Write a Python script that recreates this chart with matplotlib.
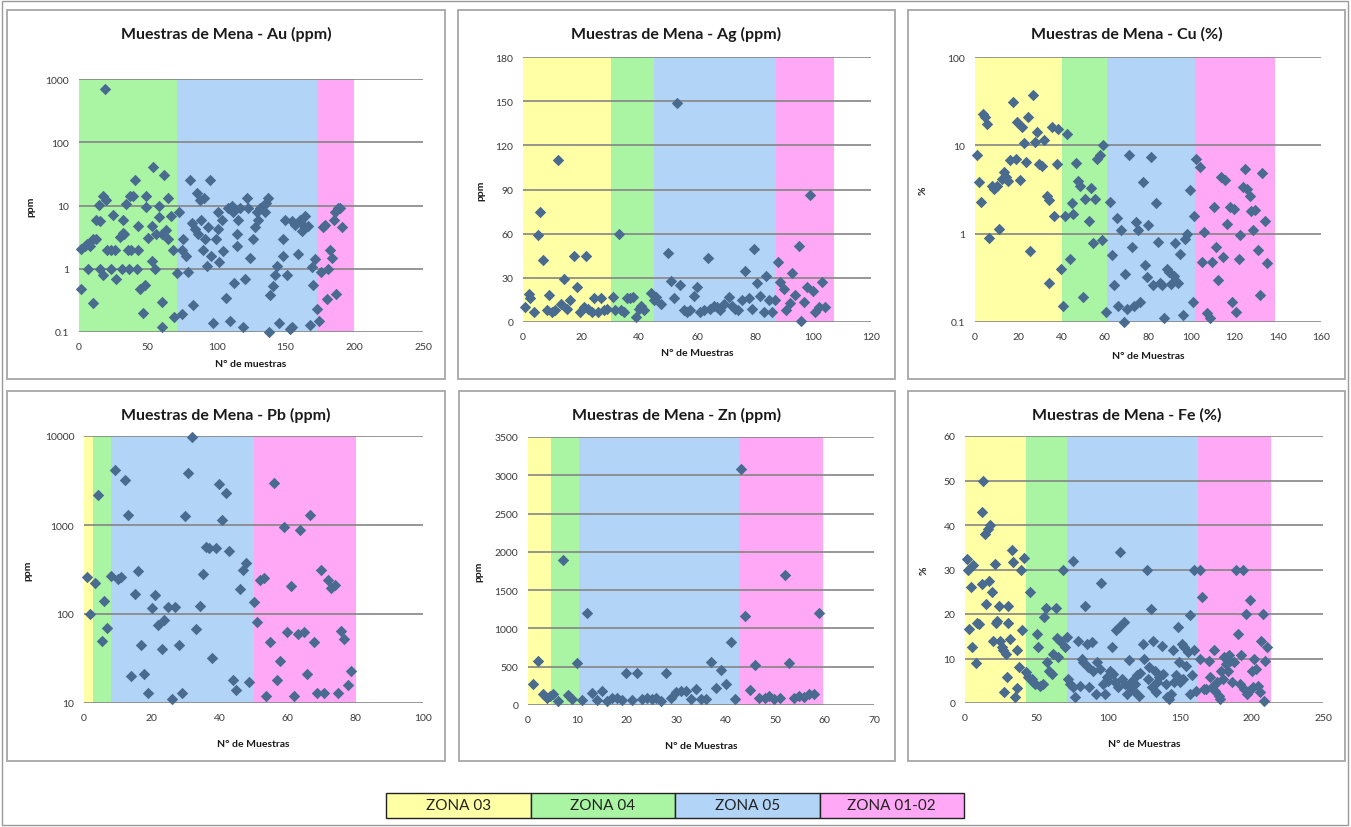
import matplotlib
matplotlib.use("Agg")
import matplotlib.pyplot as plt
from matplotlib.patches import Rectangle
from matplotlib.ticker import FuncFormatter

plt.rcParams['font.family'] = ['Lato', 'DejaVu Sans']

# zone names and colours (legend at the bottom)
zone_names = ["ZONA 03", "ZONA 04", "ZONA 05", "ZONA 01-02"]
zone_colors = ["#FFFFA6", "#AAF5A4", "#B2D4F6", "#FFA8F6"]

# ---- Au (ppm) ----
au_zones = [("ZONA 04", 0, 71.5), ("ZONA 05", 71.5, 173), ("ZONA 01-02", 173, 199.5)]
au_points = [(1.2, 0.48), (1.7, 2.07), (4, 2.3), (6, 2.5), (8, 2.3), (10, 3), (6.5, 1.0), (10, 0.29),
             (12.6, 3), (12.6, 6), (15, 5.7), (14.6, 10.2), (17.5, 14), (18.9, 700), (19.4, 12), (15, 1),
             (17.5, 0.8), (20, 2), (25, 7), (23.5, 2), (26, 2), (23.5, 1), (27, 0.7), (31, 1), (29.6, 3.2),
             (32, 3.7), (33, 3.5), (32, 5.8), (34, 10.5), (37, 14), (39, 14), (35.7, 2), (38, 2), (36, 1),
             (40.5, 25), (42, 1), (43, 2), (43, 4.7), (44, 0.48), (46.6, 0.2), (48, 0.55), (48.5, 14),
             (48.5, 9.5), (50, 3.1), (52.7, 4.7), (54, 40), (53, 1.35), (55, 1), (56, 3.5), (58, 10),
             (58, 6.5), (60.6, 3.5), (60, 0.3), (60, 0.12), (62, 30), (63, 4.1), (65, 13), (65, 3),
             (66.5, 6.8), (68.5, 2), (69, 0.17), (71, 0.85), (73, 8), (74.5, 2), (74.5, 0.19), (75.7, 3),
             (78, 1.6), (80.5, 25), (79, 0.9), (82, 5.3), (83, 0.27), (84, 4.2), (85.5, 16), (86.6, 3.5),
             (88, 12), (89, 6), (90, 2), (91, 13), (91.5, 3), (92.7, 1.1), (94, 4.5), (95, 25), (95.6, 1.6),
             (97.6, 0.14), (99.5, 3), (101, 8), (101, 4.3), (102, 1.3), (103.6, 6), (105, 1.9), (107, 0.35),
             (108.5, 9), (110, 0.15), (111, 10), (112, 8), (113, 0.6), (114.5, 3.5), (115, 2.3), (115.8, 6),
             (117, 9), (119, 0.12), (120.6, 0.7), (122, 13), (123, 9), (124, 1.5), (126.7, 3), (128, 4.6),
             (129, 8), (130, 6), (131.5, 9), (134, 10), (135, 8), (136, 11), (137.6, 13), (139, 0.38),
             (138, 0.1), (141, 0.53), (142.5, 0.8), (143.7, 1.1), (145, 0.14), (148.5, 1.6), (148, 3),
             (150, 6), (151, 0.8), (153.4, 0.11), (155, 0.12), (154.6, 5.7), (157, 5), (159.5, 1.7),
             (160.7, 6), (162, 4), (163, 5), (164.3, 6.8), (166.7, 4.7), (168, 0.13), (169, 1.05),
             (170.4, 0.55), (171.6, 1.45), (172.7, 0.23), (174.7, 0.15), (175.7, 0.9), (177, 4.6), (179, 5),
             (180, 0.33), (181, 1), (182.5, 2), (183.7, 1.5), (185, 6), (186, 8), (187, 0.4), (188, 9),
             (190, 9), (191, 4.5)]

# ---- Ag (ppm) ----
ag_zones = [("ZONA 03", 0, 30.5), ("ZONA 04", 30.5, 45.3), ("ZONA 05", 45.3, 87.4), ("ZONA 01-02", 87.4, 107.4)]
ag_points = [(0.8, 10), (2, 19), (2.5, 16), (3.7, 7), (5, 59), (5.7, 75), (7, 42), (8.3, 8), (9, 18.5),
             (10, 7), (11, 8), (12, 110), (13, 12), (14, 29), (15, 8.5), (16.3, 14.7), (17.7, 44.5),
             (18.6, 23.5), (19.5, 7), (21, 10), (21.8, 45), (22.3, 8.6), (23.8, 7), (24.6, 16), (26, 7),
             (27, 16), (27.8, 8), (29, 9), (31, 17), (31.8, 8), (33, 60), (33.8, 8), (34.7, 7), (35.9, 16),
             (37, 16), (38, 17), (38.9, 3.4), (40, 9), (40.7, 11), (41.6, 8), (44, 20), (45, 14.7), (46, 17),
             (47.6, 12), (50, 47), (51, 28), (52, 16), (53, 149), (54, 25), (55.4, 8), (56.5, 7), (57.7, 8),
             (59, 18), (60, 24), (61, 7), (62.5, 8), (63.8, 43.6), (64.6, 9), (65.7, 11), (67, 10), (68, 8),
             (69.4, 12), (71, 17), (72, 11), (73, 8.6), (74, 8), (75.5, 14.7), (76.7, 34.5), (77.8, 16),
             (79, 9), (79.8, 49.7), (80.7, 26.6), (81.8, 18), (83, 7), (83.9, 31), (84.7, 14.7), (85.9, 7),
             (87, 14.7), (87.8, 40.6), (88.7, 27), (89.9, 22.6), (90.8, 8), (92, 13), (92.8, 33.4),
             (93.9, 18.5), (95, 51.5), (95.9, 1), (96.8, 13.5), (98, 24), (99, 86), (100, 21), (100.8, 7),
             (102, 10), (103, 27.5), (104, 10)]

# ---- Cu (%) ----
cu_zones = [("ZONA 03", 0, 40.4), ("ZONA 04", 40.4, 61), ("ZONA 05", 61, 101.8), ("ZONA 01-02", 101.8, 138.9)]
cu_points = [(0.8, 7.8), (2, 3.85), (2.8, 2.3), (3.9, 22.8), (4.6, 20.9), (5.7, 17.6), (6.6, 0.9), (7.7, 3.5),
             (8.8, 3.2), (10, 3.5), (11.3, 1.14), (12.3, 4.2), (13.4, 5), (14.3, 4.4), (15.4, 3.9), (16.2, 6.8),
             (17.7, 31), (19, 7), (19.6, 18.4), (20.8, 4), (21.6, 16), (22.7, 10.5), (23.6, 6.5), (24.7, 21),
             (25.5, 0.64), (26.7, 36.8), (27.8, 11), (28.5, 14), (29.8, 6.2), (30.9, 5.8), (31.9, 11.5),
             (33.2, 2.7), (34, 0.28), (34.4, 2.4), (35.5, 16), (36.6, 1.6), (37.8, 6.2), (38.6, 15.5),
             (39.7, 0.4), (40.9, 0.15), (41.4, 1.6), (42.7, 13.5), (43.7, 0.52), (44.7, 2.2), (45.5, 1.66),
             (46.8, 6.3), (47.8, 3.9), (48.6, 3.5), (49.8, 0.19), (50.9, 2.5), (52.5, 1.4), (53.5, 3.3),
             (54.5, 0.78), (55.5, 2.5), (56.6, 7), (57.6, 7.7), (58.6, 0.85), (59.4, 10), (60.6, 0.13),
             (62.5, 2.3), (63.3, 0.57), (64.3, 0.26), (65.6, 1.5), (66.3, 0.15), (67.4, 1.1), (68.7, 0.1),
             (69.4, 0.35), (71, 7.8), (70.5, 0.14), (72.5, 0.7), (73.3, 0.15), (74.5, 1.35), (75.3, 1.1),
             (76.4, 0.17), (77.6, 3.8), (78.7, 0.44), (79.5, 0.32), (80.2, 1.26), (81.3, 7.4), (82.5, 0.26),
             (83.8, 2.2), (84.6, 0.8), (85.6, 0.28), (86.4, 0.26), (87.6, 0.11), (88.7, 0.4), (89.9, 0.37),
             (90.6, 0.27), (91.8, 0.33), (92.6, 0.78), (93.7, 0.28), (94.9, 0.59), (96.4, 0.12), (97.2, 0.88),
             (98, 1.0), (99.5, 3.1), (100.8, 0.17), (101.4, 1.6), (102.3, 7), (104.2, 5.7), (105, 0.48),
             (106, 1.05), (107.2, 0.125), (108.5, 0.11), (109.6, 0.48), (110.3, 2), (111.6, 0.7), (112.6, 0.3),
             (113.7, 4.4), (114.6, 0.55), (115.7, 4), (116.5, 1.27), (117.7, 2), (118.8, 0.17), (119.6, 1.9),
             (120.8, 0.13), (121.9, 0.52), (122.7, 0.97), (123.9, 3.4), (125, 5.4), (125.8, 3.2), (127, 2.7),
             (127.6, 1.8), (128.5, 1.1), (129.6, 1.85), (130.7, 0.65), (131.6, 0.2), (132.7, 4.8),
             (134.2, 1.4), (135, 0.46)]

# ---- Pb (ppm) ----
pb_zones = [("ZONA 03", 0, 2.6), ("ZONA 04", 2.6, 8), ("ZONA 05", 8, 50), ("ZONA 01-02", 50, 80.3)]
pb_points = [(1, 261), (1.8, 100), (3.2, 225), (4, 2190), (5.2, 50), (5.9, 139), (6.9, 70), (8, 268), (9, 4190),
             (10.1, 245), (10.8, 260), (12.1, 3170), (12.9, 1285), (13.9, 20), (14.9, 166), (15.8, 305),
             (16.8, 45), (17.8, 21), (19, 13), (20, 118), (20.8, 164), (21.8, 75), (22.9, 40), (23.7, 85),
             (24.7, 120), (25.9, 11), (26.9, 120), (27.9, 45), (28.8, 13), (29.8, 1250), (30.8, 3830),
             (31.8, 9750), (33, 68), (34.1, 122), (35, 285), (36, 568), (36.9, 550), (37.9, 32), (38.9, 550),
             (39.9, 2870), (40.8, 1130), (41.9, 2290), (42.9, 513), (43.9, 18), (44.9, 14), (45.9, 190),
             (46.9, 310), (47.8, 370), (48.8, 17), (50, 137), (51, 81), (52, 240), (53, 255), (53.7, 12),
             (54.9, 48), (55.9, 2960), (56.9, 18), (57.9, 30), (59.1, 956), (60, 63), (61, 205), (61.8, 12),
             (63, 60), (63.8, 890), (64.8, 63), (65.7, 21), (66.7, 1300), (67.7, 48), (68.7, 13), (69.9, 314),
             (70.9, 13), (71.9, 240), (72.8, 198), (74.1, 213), (74.9, 13), (75.8, 65), (76.8, 52), (77.9, 16),
             (78.7, 23)]

# ---- Zn (ppm) ----
zn_zones = [("ZONA 03", 0, 4.6), ("ZONA 04", 4.6, 10.4), ("ZONA 05", 10.4, 42.6), ("ZONA 01-02", 42.6, 59.6)]
zn_points = [(1, 280), (2, 576), (3, 140), (3.8, 96), (4.5, 118), (5, 148), (6, 52), (7, 1900), (8, 131),
             (8.9, 74), (9.9, 554), (10.9, 61), (11.9, 1196), (12.9, 161), (13.9, 61), (15, 183), (16, 52),
             (17, 96), (18, 96), (19, 61), (19.9, 423), (21, 61), (22, 423), (23, 74), (24, 96), (25, 74),
             (25.9, 96), (26.9, 52), (28, 415), (28.9, 87), (30, 175), (31, 183), (32, 183), (32.9, 74),
             (34, 205), (35, 74), (36, 74), (37.1, 563), (38, 218), (39, 454), (40, 270), (41, 825), (41.9, 74),
             (43, 3085), (43.9, 1156), (44.9, 192), (45.9, 519), (46.8, 96), (48, 96), (48.8, 118), (49.8, 74),
             (51, 96), (52, 1697), (52.9, 554), (53.9, 96), (54.9, 118), (55.9, 105), (56.9, 148), (57.9, 140),
             (58.9, 1200)]

# ---- Fe (%) ----
fe_zones = [("ZONA 03", 0, 42.4), ("ZONA 04", 42.4, 71), ("ZONA 05", 71, 163), ("ZONA 01-02", 163, 213.7)]
fe_points = [(1.2, 32.4), (2.3, 29.8), (3, 16.7), (4, 26), (4.7, 12.5), (5.8, 30.9), (7.7, 8.9), (8.6, 17.9),
             (10, 17.8), (11.6, 26.8), (11.6, 43), (12.8, 50), (14, 38), (15, 22.3), (16.3, 39.2), (17.5, 39.9),
             (17, 27.4), (18.6, 24.9), (19.8, 14), (21, 31.3), (21.7, 17.9), (22.6, 18.4), (24, 21.9), (24.5, 14),
             (25.6, 12.5), (26.8, 11.8), (27.3, 2.4), (28.7, 10.9), (29.6, 5.8), (30.3, 21.9), (30.3, 17.9),
             (31.5, 14.3), (32.6, 34.4), (33.8, 31.7), (35, 1.3), (36, 11.8), (36.6, 3.4), (38, 8.2),
             (38.9, 29.9), (39.6, 16.3), (41.2, 32.6),
             (42.6, 6.9), (44.3, 5.8), (45.4, 24.9), (46.6, 5.4), (47.8, 4.7), (49, 4.3), (50.6, 15.5),
             (51.3, 12.5), (52.4, 3.9), (54.3, 4.3), (55.2, 19.3), (56.6, 21.4), (57.6, 9.2), (59, 7.3),
             (60.6, 6.5), (61.7, 11), (63.6, 21.4), (64.5, 14.6), (65.2, 10.3), (66.4, 14), (68.3, 29.9),
             (69.9, 12.5),
             (71.5, 14.9), (72.2, 5.4), (73.4, 4.3), (75.3, 32), (75.7, 3.5), (76.9, 1.3), (78.8, 14),
             (80.4, 3.9), (81.5, 9.9), (82.7, 9.2), (83.9, 21.9), (85, 13.3), (86.2, 8), (86.9, 3.5),
             (88.5, 13.7), (89.7, 7.3), (91.6, 2), (92.5, 9.2), (94.4, 7.7), (94.8, 27), (96.2, 4.3), (97.9, 2),
             (99, 5.8), (100.2, 5), (101.4, 7.3), (102.5, 12.5), (103.7, 6.5), (104.9, 4.7), (105.5, 16.3),
             (106.5, 3.5), (107.2, 17), (108.3, 34), (109.5, 5.4), (110.7, 18.2), (111.8, 4.3), (113, 2),
             (114.2, 9.7), (115.3, 3.5), (116.5, 5), (117.7, 2.8), (118.8, 4.3), (120, 6.2), (121.2, 1.6),
             (122.3, 6.7), (124.2, 13.3), (125.1, 9.9), (127, 30), (127.5, 5.4), (128.8, 8), (129.8, 21.1),
             (130.5, 3.5), (131.6, 14), (132.8, 7.3), (133.5, 2.4), (134.4, 4.7), (135.8, 5.8), (137.5, 12.9),
             (138.6, 6.5), (140.5, 4.3), (141.4, 1.3), (142.8, 0.9), (143.8, 2), (145.2, 11.8), (146.1, 4.7),
             (147.5, 6.2), (148.4, 17), (149.1, 9.2), (149.8, 4.7), (151.5, 13.3), (152.1, 5.4), (153.1, 12.5),
             (154.5, 8.4), (155.4, 11.4), (156.8, 19.7), (157.3, 2), (158.4, 6.2), (159.6, 29.9), (160, 11.8),
             (161.5, 2.8),
             (163.8, 29.9), (164.3, 9.9), (165.4, 23.8), (166.6, 3.2), (168.5, 3.2), (170.1, 9.4), (171.3, 5.8),
             (172.4, 3.5), (173.6, 11.8), (174.8, 2.8), (175.9, 4.7), (177.1, 1.6), (178.2, 0.9), (178.7, 7.3),
             (180.1, 5.4), (181, 10.3), (182.4, 8.8), (183.4, 7.3), (184.3, 10.7), (185.2, 9.5), (186.4, 4.7),
             (187.6, 9.2), (189.4, 29.9), (190.4, 15.5), (191.8, 4.3), (192.7, 10.7), (194.1, 29.9), (195, 3.2),
             (196.4, 20), (196.9, 2), (198, 2.8), (199.2, 23.2), (200.4, 7.3), (201.1, 3.5), (202, 9.9),
             (203.4, 7.7), (204.3, 3.9), (205.7, 2.4), (206.7, 14), (208.1, 20), (208.5, 0.5), (209.7, 9.5),
             (210.9, 12.5)]

zone_color = dict(zip(zone_names, zone_colors))
marker_color = "#4A6B90"
grid_color = "#858585"
text_color = "#3A3A3A"

fig = plt.figure(figsize=(13.51, 8.28), dpi=100)
W, H = 1351.0, 828.0


def px_rect(x0, y0, x1, y1):
    # figure-pixel box (top-left origin) -> fig fraction [l, b, w, h]
    return [x0 / W, 1 - y1 / H, (x1 - x0) / W, (y1 - y0) / H]


# outer frame
fig.patches.append(Rectangle((2 / W, 2 / H), 1346 / W, 824 / H, transform=fig.transFigure,
                             fill=False, ec="#9A9A9A", lw=1.0))

panels = [
    # title, points, zones, log?, ylim, xmax, xstep, yticks, ylabel, xlabel, axes box, panel box, ylab x, xlab y
    ("Muestras de Mena - Au (ppm)", au_points, au_zones, True, (0.1, 1000), 250, 50, None, "ppm",
     "N° de muestras", (79, 80, 423, 333), (7, 11, 445, 380), -0.128, -0.107),
    ("Muestras de Mena - Ag (ppm)", ag_points, ag_zones, False, (0, 180), 120, 20, range(0, 181, 30), "ppm",
     "N° de Muestras", (523, 58, 871, 323), (458, 11, 895, 380), -0.108, -0.100),
    ("Muestras de Mena - Cu (%)", cu_points, cu_zones, True, (0.1, 100), 160, 20, None, "%",
     "N° de Muestras", (975, 58, 1321, 323), (908, 11, 1345, 380), -0.136, -0.109),
    ("Muestras de Mena - Pb (ppm)", pb_points, pb_zones, True, (10, 10000), 100, 20, None, "ppm",
     "N° de Muestras", (84, 437, 423, 704), (7, 392, 445, 762), -0.153, -0.134),
    ("Muestras de Mena - Zn (ppm)", zn_points, zn_zones, False, (0, 3500), 70, 10, range(0, 3501, 500), "ppm",
     "N° de Muestras", (528, 438, 874, 706), (459, 392, 895, 762), -0.129, -0.136),
    ("Muestras de Mena - Fe (%)", fe_points, fe_zones, False, (0, 60), 250, 50, range(0, 61, 10), "%",
     "N° de Muestras", (965, 437, 1323, 704), (908, 392, 1345, 762), -0.103, -0.135),
]

for (title, pts, zones, logy, ylim, xmax, xstep, yticks, ylab, xlab, abox, pbox, ylx, xly) in panels:
    # panel frame
    fig.patches.append(Rectangle((pbox[0] / W, 1 - pbox[3] / H), (pbox[2] - pbox[0]) / W,
                                 (pbox[3] - pbox[1]) / H, transform=fig.transFigure,
                                 fill=False, ec="#A6A6A6", lw=1.3))
    fig.text((pbox[0] + pbox[2]) / 2 / W, 1 - (pbox[1] + 23) / H, title, ha="center", va="center",
             fontsize=11.5, fontweight="bold", color="#1A1A1A")

    ax = fig.add_axes(px_rect(*abox))
    for name, a, b in zones:
        ax.axvspan(a, b, color=zone_color[name], lw=0, zorder=0)

    xs, ys = zip(*pts)
    ax.scatter(xs, ys, marker="D", s=34, color=marker_color, lw=0, zorder=3, clip_on=False)

    if logy:
        ax.set_yscale("log")
        ax.yaxis.set_major_formatter(FuncFormatter(lambda v, p: "%g" % v))
        ax.minorticks_off()
    else:
        ax.set_yticks(list(yticks))
    ax.set_ylim(*ylim)
    ax.set_xlim(0, xmax)
    ax.set_xticks(range(0, xmax + 1, xstep))

    ax.grid(axis="y", color=grid_color, lw=1.2, zorder=1)
    ax.set_axisbelow(False)
    for s in ax.spines.values():
        s.set_visible(False)
    ax.tick_params(length=0, labelsize=7.5, colors=text_color, pad=7)

    ax.set_ylabel(ylab, fontsize=7.5, fontweight="bold", color="#1A1A1A")
    ax.yaxis.set_label_coords(ylx, 0.5)
    ax.set_xlabel(xlab, fontsize=7.5, fontweight="bold", color="#1A1A1A")
    ax.xaxis.set_label_coords(0.5, xly)

# legend strip at the bottom
lx0, lx1, ly0, ly1 = 386, 964, 794, 819
cw = (lx1 - lx0) / len(zone_names)
for i, (name, col) in enumerate(zip(zone_names, zone_colors)):
    x0 = lx0 + i * cw
    fig.patches.append(Rectangle((x0 / W, 1 - ly1 / H), cw / W, (ly1 - ly0) / H, transform=fig.transFigure,
                                 fc=col, ec="#222222", lw=1.0))
    fig.text((x0 + cw / 2) / W, 1 - (ly0 + ly1) / 2 / H, name, ha="center", va="center",
             fontsize=11, color="#222222")

fig.savefig("out.png", dpi=100)
